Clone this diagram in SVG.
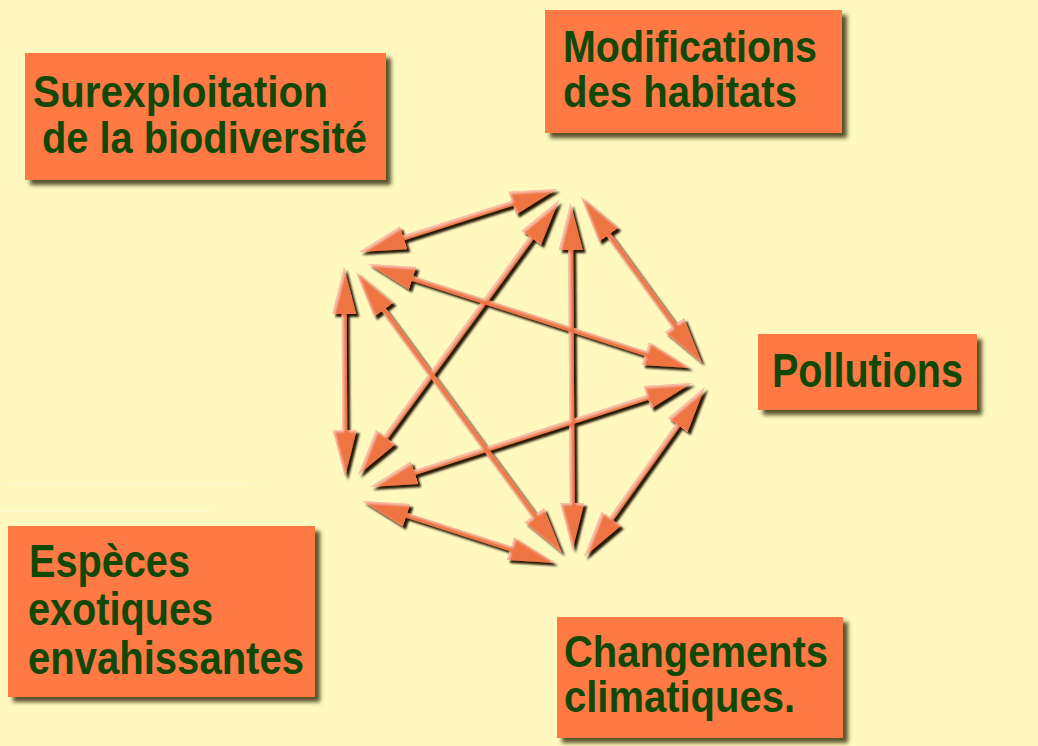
<svg xmlns="http://www.w3.org/2000/svg" width="1038" height="746" viewBox="0 0 1038 746">
<defs>
<style>
.box{fill:#FF7944;filter:url(#boxShadow)}
.lbl{font-family:"Liberation Sans",Arial,sans-serif;font-weight:bold;fill:#124806}
.shaft{fill:none;stroke:#EE7443;stroke-width:5;marker-start:url(#head);marker-end:url(#head)}
.faint{stroke:#FFFFFF;stroke-opacity:0.3;stroke-width:1.5}
</style>
<filter id="boxShadow" x="-5%" y="-5%" width="115%" height="120%">
<feDropShadow dx="5" dy="5" stdDeviation="2" flood-color="#3b3010" flood-opacity="0.85"/>
</filter>
<filter id="bevel" filterUnits="userSpaceOnUse" x="300" y="160" width="450" height="430">
<feGaussianBlur in="SourceAlpha" stdDeviation="1" result="b"/>
<feOffset in="b" dx="2" dy="2" result="bo"/>
<feComposite in="SourceAlpha" in2="bo" operator="out" result="rim"/>
<feFlood flood-color="#FFE8D4" flood-opacity="0.6"/>
<feComposite in2="rim" operator="in" result="hl"/>
<feGaussianBlur in="SourceAlpha" stdDeviation="1.3" result="b2"/>
<feOffset in="b2" dx="3" dy="3" result="so"/>
<feFlood flood-color="#231500" flood-opacity="1"/>
<feComposite in2="so" operator="in" result="sh"/>
<feMerge><feMergeNode in="sh"/><feMergeNode in="SourceGraphic"/><feMergeNode in="hl"/></feMerge>
</filter>
<marker id="head" markerUnits="userSpaceOnUse" viewBox="0 -13 48 26" markerWidth="48" markerHeight="26" refX="7" refY="0" orient="auto-start-reverse">
<path d="M0,-12 L47,0 L0,12 Z" fill="#EE7443"/>
</marker>
</defs>
<rect width="1038" height="746" fill="#FFF9C0"/>
<line class="faint" x1="5" y1="484" x2="250" y2="484"/>
<line class="faint" x1="0" y1="511" x2="213" y2="511"/>

<g id="surexploitation">
<rect class="box" x="25" y="53" width="361" height="127"/>
<text class="lbl" font-size="44" x="33" y="107" textLength="295" lengthAdjust="spacingAndGlyphs">Surexploitation</text>
<text class="lbl" font-size="44" x="42" y="153" textLength="325" lengthAdjust="spacingAndGlyphs">de la biodiversité</text>
</g>
<g id="modifications">
<rect class="box" x="545" y="10" width="297" height="123"/>
<text class="lbl" font-size="44" x="563" y="62" textLength="254" lengthAdjust="spacingAndGlyphs">Modifications</text>
<text class="lbl" font-size="44" x="563" y="107" textLength="234" lengthAdjust="spacingAndGlyphs">des habitats</text>
</g>
<g id="pollutions">
<rect class="box" x="758" y="334" width="219" height="76"/>
<text class="lbl" font-size="49" x="772" y="387" textLength="191" lengthAdjust="spacingAndGlyphs">Pollutions</text>
</g>
<g id="especes">
<rect class="box" x="8" y="526" width="307" height="171"/>
<text class="lbl" font-size="46" x="29" y="577" textLength="161" lengthAdjust="spacingAndGlyphs">Espèces</text>
<text class="lbl" font-size="46" x="28" y="625" textLength="185" lengthAdjust="spacingAndGlyphs">exotiques</text>
<text class="lbl" font-size="46" x="28" y="674" textLength="276" lengthAdjust="spacingAndGlyphs">envahissantes</text>
</g>
<g id="changements">
<rect class="box" x="557" y="617" width="286" height="121"/>
<text class="lbl" font-size="44" x="564" y="667" textLength="264" lengthAdjust="spacingAndGlyphs">Changements</text>
<text class="lbl" font-size="44" x="564" y="712" textLength="231" lengthAdjust="spacingAndGlyphs">climatiques.</text>
</g>

<g id="connectors" filter="url(#bevel)">
<path class="shaft" d="M518.9,201.1 L397.1,239.9"/>
<path class="shaft" d="M535.4,232.3 L381.6,442.7"/>
<path class="shaft" d="M570.7,243 L572.3,510"/>
<path class="shaft" d="M604.6,229.3 L678.4,330.7"/>
<path class="shaft" d="M406.1,276.3 L651.9,355.7"/>
<path class="shaft" d="M344.2,307 L344.8,437"/>
<path class="shaft" d="M379.7,304.3 L538.3,520.7"/>
<path class="shaft" d="M408.1,474.7 L653.9,395.3"/>
<path class="shaft" d="M400.1,513.2 L516.9,550.8"/>
<path class="shaft" d="M681.8,419.6 L607.2,524.4"/>
</g>
</svg>
